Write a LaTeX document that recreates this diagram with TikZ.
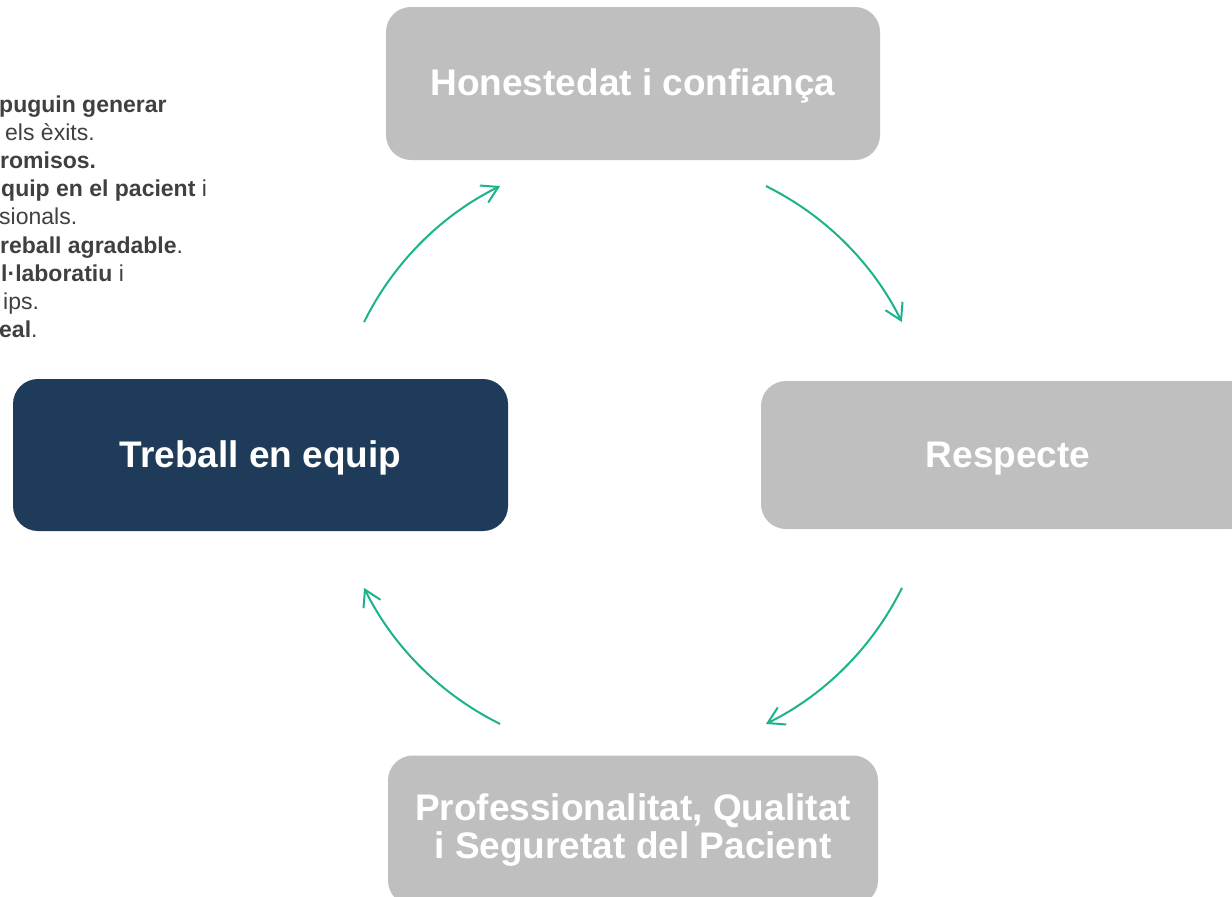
\documentclass[tikz,border=0pt]{standalone}
\usepackage{fontspec}
\setmainfont{Liberation Sans}
\usetikzlibrary{arrows.meta,calc}
\definecolor{boxgray}{HTML}{BFBFBF}
\definecolor{navy}{HTML}{1F3B5A}
\definecolor{teal}{HTML}{1BB38D}
\definecolor{txtgray}{HTML}{404040}
\tikzset{
  valuebox/.style={rounded corners=25pt, inner sep=0pt, text=white,
    font=\fontsize{37}{38}\selectfont\bfseries, align=center},
  oneline/.style={text height=31pt, text depth=6.4pt},
  cyclearrow/.style={draw=teal, line width=2pt,
    -{Straight Barb[length=16pt,width=19pt]}},
  sidetext/.style={anchor=base west, inner sep=0pt, text=txtgray,
    font=\fontsize{23}{28}\selectfont}
}
\begin{document}
\begin{tikzpicture}[x=1pt,y=-1pt]
\useasboundingbox (0,0) rectangle (1232,897);
\clip (0,0) rectangle (1232,897);
\fill[white] (0,0) rectangle (1232,897);

% side text (partially cut at the left edge)
\node[sidetext] (t1) at (-1,112) {\textbf{puguin generar}};
\node[sidetext] (t2) at (5,140.2) {els èxits.};
\node[sidetext] (t3) at (0,168.4) {\textbf{romisos.}};
\node[sidetext] (t4) at (1,196.6) {\textbf{quip en el pacient} i};
\node[sidetext] (t5) at (-1,224.8) {sionals.};
\node[sidetext] (t6) at (0,253) {\textbf{reball agradable}.};
\node[sidetext] (t7) at (1,281.2) {\textbf{l·laboratiu} i};
\node[sidetext] (t8) at (3,309.4) {ips.};
\node[sidetext] (t9) at (-1,337.6) {\textbf{eal}.};

% boxes
\node[valuebox, oneline, fill=boxgray, minimum width=494pt, minimum height=153pt]
  (hon) at (633,83.5) {Honestedat i confiança};
\node[valuebox, oneline, fill=navy, minimum width=495pt, minimum height=152pt]
  (tre) at (260.5,455) {Treball en equip};
\node[valuebox, oneline, fill=boxgray, minimum width=494pt, minimum height=148pt]
  (res) at (1008,455) {Respecte};
\node[valuebox, fill=boxgray, minimum width=490pt, minimum height=150pt]
  (pro) at (633,830.5) {Professionalitat, Qualitat\\i Seguretat del Pacient};

% cycle arrows (arcs of a circle round the centre)
\coordinate (ctr) at (633,455);
\coordinate (a1) at ($(ctr)+(-153.7:300)$);
\coordinate (a2) at ($(ctr)+(-63.7:300)$);
\coordinate (a3) at ($(ctr)+(26.3:300)$);
\coordinate (a4) at ($(ctr)+(116.3:300)$);
\draw[cyclearrow] (a1) arc[start angle=-153.7, end angle=-116.3, radius=300];
\draw[cyclearrow] (a2) arc[start angle=-63.7, end angle=-26.3, radius=300];
\draw[cyclearrow] (a3) arc[start angle=26.3, end angle=63.7, radius=300];
\draw[cyclearrow] (a4) arc[start angle=116.3, end angle=153.7, radius=300];
\end{tikzpicture}
\end{document}
